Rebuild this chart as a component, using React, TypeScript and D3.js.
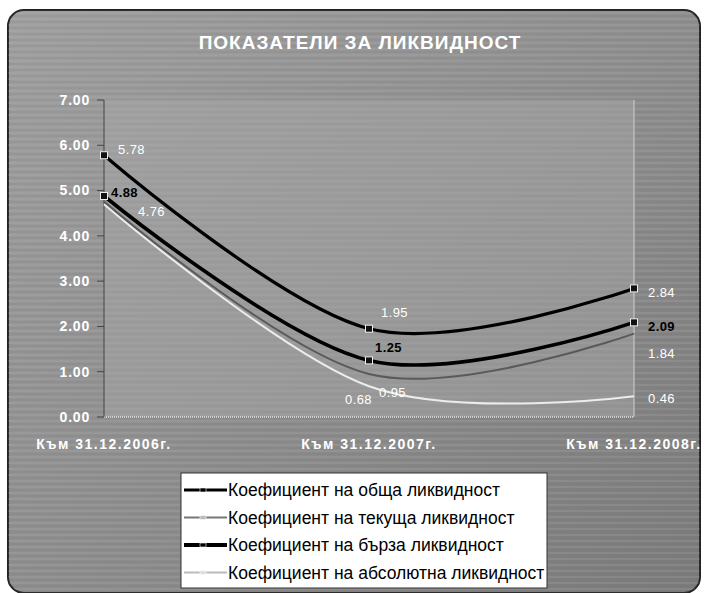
import React from "react";
import * as d3 from "d3";

// категории и стойности на коефициентите
const categories = ["Към 31.12.2006г.", "Към 31.12.2007г.", "Към 31.12.2008г."];
const obshta = [5.78, 1.95, 2.84];
const tekushta = [4.76, 0.95, 1.84];
const barza = [4.88, 1.25, 2.09];
const absolyutna = [4.7, 0.68, 0.46];
const yTicks = [0, 1, 2, 3, 4, 5, 6, 7];
const seriesNames = [
  "Коефициент на обща ликвидност",
  "Коефициент на текуща ликвидност",
  "Коефициент на бърза ликвидност",
  "Коефициент на абсолютна ликвидност",
];
const title = "ПОКАЗАТЕЛИ ЗА ЛИКВИДНОСТ";

const W = 708;
const H = 593;
const plot = { left: 104, right: 634, top: 100, bottom: 417 };

// стил на сериите (цвят, дебелина, етикети)
const styles = [
  { color: "#000", width: 3.2, marker: true, label: "#fff", offs: [[14, -6], [12, -16], [14, 4]], show: [true, true, true] },
  { color: "#5a5a5a", width: 2, marker: false, label: "#fff", offs: [[34, 10], [10, 18], [14, 20]], show: [true, true, true] },
  { color: "#000", width: 3.6, marker: true, label: "#000", offs: [[7, -4], [6, -13], [14, 4]], show: [true, true, true] },
  { color: "#ececec", width: 2, marker: false, label: "#fff", offs: [[0, 0], [-24, 13], [14, 2]], show: [false, true, true] },
];
const legendStyles = [
  { color: "#000", width: 3, mark: "#000" },
  { color: "#777", width: 2, mark: "#bbb" },
  { color: "#000", width: 4, mark: "#000" },
  { color: "#bbb", width: 2, mark: "#ddd" },
];

export default function App() {
  const data = [obshta, tekushta, barza, absolyutna];
  const x = d3.scalePoint<string>().domain(categories).range([plot.left, plot.right]).padding(0);
  const y = d3.scaleLinear().domain([0, 7]).range([plot.bottom, plot.top]);
  const line = d3
    .line<number>()
    .x((_, i) => x(categories[i]) as number)
    .y((d) => y(d))
    .curve(d3.curveCatmullRom.alpha(0));

  const font = "Arial, 'Liberation Sans', sans-serif";

  return (
    <div style={{ position: "absolute", left: 0, top: 0 }}>
      <svg width={W} height={H} style={{ display: "block", background: "#fff" }}>
        <defs>
          <linearGradient id="bg" x1="0" y1="0" x2="1" y2="1">
            <stop offset="0%" stopColor="#a0a0a0" />
            <stop offset="50%" stopColor="#8e8e8e" />
            <stop offset="100%" stopColor="#7a7a7a" />
          </linearGradient>
          <pattern id="stripes" width="8" height="6" patternUnits="userSpaceOnUse">
            <rect width="8" height="6" fill="none" />
            <line x1="0" y1="1" x2="8" y2="1" stroke="#b8b8b8" strokeWidth="1" opacity="0.35" />
            <line x1="0" y1="4" x2="8" y2="4" stroke="#6e6e6e" strokeWidth="1" opacity="0.25" />
          </pattern>
        </defs>

        {/* фон на диаграмата */}
        <rect x={8} y={10} width={692} height={583} rx={16} fill="url(#bg)" stroke="#222" strokeWidth={2} />
        <rect x={8} y={10} width={692} height={583} rx={16} fill="url(#stripes)" />

        {/* зона на графиката */}
        <rect
          x={plot.left}
          y={plot.top}
          width={plot.right - plot.left}
          height={plot.bottom - plot.top}
          fill="#a8a8a8"
          opacity={0.45}
        />
        <line x1={plot.right} x2={plot.right} y1={plot.top} y2={plot.bottom} stroke="#d0d0d0" strokeWidth={1} />
        <line
          x1={plot.left}
          x2={plot.right}
          y1={plot.bottom}
          y2={plot.bottom}
          stroke="#e0e0e0"
          strokeWidth={1.5}
          strokeDasharray="1,1"
        />

        <text
          x={360}
          y={42}
          dy="0.35em"
          textAnchor="middle"
          fill="#fff"
          fontFamily={font}
          fontSize={19}
          fontWeight="bold"
          letterSpacing={1}
        >
          {title}
        </text>

        {/* ос Y */}
        <line x1={plot.left} x2={plot.left} y1={plot.top} y2={plot.bottom} stroke="#444" strokeWidth={1} />
        {yTicks.map((t) => (
          <g key={t}>
            <line x1={plot.left - 7} x2={plot.left} y1={y(t)} y2={y(t)} stroke="#444" />
            <text
              x={plot.left - 14}
              y={y(t)}
              dy="0.35em"
              textAnchor="end"
              fill="#fff"
              fontFamily={font}
              fontSize={14}
              fontWeight="bold"
              letterSpacing={0.8}
            >
              {t.toFixed(2)}
            </text>
          </g>
        ))}

        {/* категории */}
        {categories.map((c) => (
          <text
            key={c}
            x={x(c)}
            y={444}
            dy="0.35em"
            textAnchor="middle"
            fill="#fff"
            fontFamily={font}
            fontSize={14}
            fontWeight="bold"
            letterSpacing={1.5}
          >
            {c}
          </text>
        ))}

        {/* линии */}
        {[3, 1, 2, 0].map((si) => (
          <path
            key={si}
            d={line(data[si]) || ""}
            fill="none"
            stroke={styles[si].color}
            strokeWidth={styles[si].width}
          />
        ))}

        {/* маркери */}
        {data.map((vals, si) =>
          styles[si].marker
            ? vals.map((v, i) => (
                <rect
                  key={`${si}-${i}`}
                  x={(x(categories[i]) as number) - 3.5}
                  y={y(v) - 3.5}
                  width={7}
                  height={7}
                  fill="#111"
                  stroke="#eee"
                  strokeWidth={1}
                />
              ))
            : null
        )}

        {/* етикети със стойности */}
        {data.map((vals, si) =>
          vals.map((v, i) =>
            styles[si].show[i] ? (
              <text
                key={`l-${si}-${i}`}
                x={(x(categories[i]) as number) + styles[si].offs[i][0]}
                y={y(v) + styles[si].offs[i][1]}
                dy="0.35em"
                fill={styles[si].label}
                fontFamily={font}
                fontSize={13}
                fontWeight={si === 2 ? "bold" : "normal"}
                letterSpacing={0.4}
              >
                {v.toFixed(2)}
              </text>
            ) : null
          )
        )}

        {/* легенда */}
        <g transform="translate(181,473)">
          <rect x={0} y={0} width={366} height={115} fill="#fff" stroke="#333" strokeWidth={1} />
          {seriesNames.map((n, i) => (
            <g key={n} transform={`translate(0,${17 + i * 27.5})`}>
              <line x1={3} x2={46} y1={0} y2={0} stroke={legendStyles[i].color} strokeWidth={legendStyles[i].width} />
              <rect x={19} y={-2} width={6} height={4} fill={legendStyles[i].mark} stroke="#fff" strokeWidth={0.6} />
              <text x={47} y={0} dy="0.35em" fill="#000" fontFamily={font} fontSize={17.5}>
                {n}
              </text>
            </g>
          ))}
        </g>
      </svg>
    </div>
  );
}
